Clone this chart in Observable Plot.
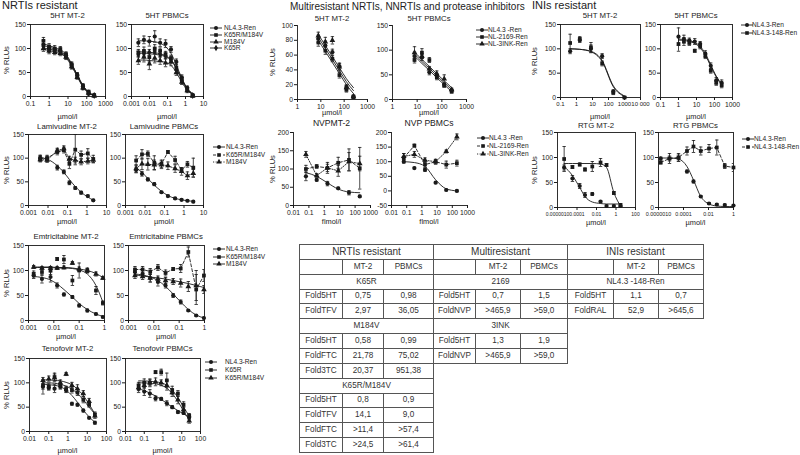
<!DOCTYPE html>
<html><head><meta charset="utf-8">
<script src="https://cdn.jsdelivr.net/npm/d3@7"></script>
<script src="https://cdn.jsdelivr.net/npm/@observablehq/plot@0.6"></script>
<style>
html,body{margin:0;padding:0;background:#fff;}
#root{position:relative;width:800px;height:455px;overflow:hidden;font-family:"Liberation Sans",Arial,Helvetica,sans-serif;color:#222;}
#root svg{position:absolute;overflow:visible;}
.t{position:absolute;white-space:nowrap;line-height:1;}
table.ft{position:absolute;border-collapse:collapse;table-layout:fixed;font-size:8.2px;color:#333;border:1.5px solid #444;}
table.ft tr{height:14.86px;}
table.ft td{border:1px solid #555;padding:0;text-align:center;overflow:hidden;white-space:nowrap;line-height:1;}
table.ft td.h{font-size:10px;}
</style></head><body><div id="root"></div>
<script>
// ---------------- DATA ----------------
// NRTIs resistant : 5HT MT-2
const nrtiMT2_dose = [0.49, 0.98, 1.95, 3.9, 7.8, 15.6, 31.3, 62.5, 125, 250];
const nrtiMT2_NL = [108, 100, 97, 95, 86, 66, 45, 21, 8, 2];
const nrtiMT2_NL_err = [8, 6, 5, 5, 5, 6, 5, 4, 3, 2];
const nrtiMT2_NL_fit = [106, 103, 99, 94, 85, 67, 45, 23, 9, 2];
const nrtiMT2_KM = [116, 104, 100, 99, 88, 66, 42, 22, 10, 3];
const nrtiMT2_KM_err = [7, 6, 6, 5, 5, 5, 5, 5, 3, 2];
const nrtiMT2_KM_fit = [110, 106, 102, 97, 88, 68, 45, 23, 9, 3];
const nrtiMT2_M = [100, 95, 92, 90, 82, 62, 40, 18, 7, 1];
const nrtiMT2_M_err = [6, 6, 5, 5, 5, 5, 4, 4, 3, 2];
const nrtiMT2_M_fit = [98, 96, 93, 89, 81, 63, 41, 20, 7, 2];
const nrtiMT2_K = [104, 97, 95, 93, 84, 64, 43, 19, 6, 2];
const nrtiMT2_K_err = [6, 5, 5, 5, 5, 5, 4, 4, 3, 2];
const nrtiMT2_K_fit = [101, 99, 96, 92, 83, 65, 43, 21, 8, 2];
// NRTIs resistant : 5HT PBMCs
const nrtiPB_dose = [0.0024, 0.0049, 0.0098, 0.0195, 0.039, 0.078, 0.156, 0.31, 0.62, 1.25, 2.5];
const nrtiPB_NL = [112, 118, 115, 125, 112, 110, 98, 72, 40, 18, 3];
const nrtiPB_NL_err = [8, 8, 10, 12, 8, 8, 6, 6, 5, 4, 2];
const nrtiPB_NL_fit = [116, 116, 115, 114, 111, 104, 90, 66, 38, 16, 5];
const nrtiPB_KM = [92, 95, 82, 100, 95, 88, 80, 60, 35, 15, 2];
const nrtiPB_KM_err = [6, 8, 10, 8, 6, 6, 6, 6, 5, 4, 2];
const nrtiPB_KM_fit = [93, 93, 92, 91, 89, 85, 77, 60, 37, 17, 6];
const nrtiPB_M = [75, 82, 68, 80, 75, 70, 72, 50, 30, 12, 1];
const nrtiPB_M_err = [8, 10, 12, 10, 8, 8, 8, 6, 5, 4, 2];
const nrtiPB_M_fit = [76, 76, 75, 74, 73, 71, 65, 50, 30, 13, 4];
const nrtiPB_K = [88, 90, 92, 95, 88, 85, 76, 55, 33, 14, 2];
const nrtiPB_K_err = [6, 6, 6, 6, 6, 6, 6, 5, 5, 4, 2];
const nrtiPB_K_fit = [90, 90, 89, 88, 86, 83, 75, 58, 35, 15, 5];
// Lamivudine MT-2
const lamMT2_dose = [0.004, 0.009, 0.03, 0.065, 0.125, 0.25, 0.5, 1.1, 2.1];
const lamMT2_NL = [100, 99, 80, 71, 48, 37, 27, 20, 11];
const lamMT2_NL_err = [6, 5, 5, 4, 4, 3, 3, 2, 2];
const lamMT2_NL_fit = [101, 98, 84, 70, 55, 40, 28, 18, 11];
const lamMT2_KM = [100, 100, 113, 117, 88, 118, 107, 110, 98];
const lamMT2_KM_err = [6, 6, 6, 6, 10, 32, 8, 10, 8];
const lamMT2_M = [97, 96, 116, 120, 98, 96, 92, 94, 96];
const lamMT2_M_err = [5, 5, 5, 6, 6, 6, 6, 6, 5];
// Lamivudine PBMCs
const lamPB_dose = [0.0035, 0.007, 0.014, 0.03, 0.07, 0.15, 0.35, 0.75, 1.5, 3];
const lamPB_NL = [75, 67, 55, 45, 28, 20, 15, 12, 10, 8];
const lamPB_NL_err = [6, 5, 3, 3, 2, 2, 2, 2, 2, 2];
const lamPB_NL_fit = [80, 70, 57, 43, 30, 21, 15, 12, 10, 9];
const lamPB_KM = [95, 108, 109, 90, 88, 113, 96, 75, 87, 80];
const lamPB_KM_err = [10, 10, 6, 15, 8, 3, 8, 5, 6, 20];
const lamPB_M = [78, 88, 87, 86, 86, 84, 78, 72, 63, 68];
const lamPB_M_err = [8, 12, 12, 10, 8, 8, 8, 8, 8, 8];
// Emtricitabine MT-2
const ftcMT2_dose = [0.0016, 0.0034, 0.0074, 0.0135, 0.025, 0.054, 0.1, 0.21, 0.46, 0.86];
const ftcMT2_NL = [90, 83, 87, 70, 52, 47, 30, 20, 13, 7];
const ftcMT2_NL_err = [6, 8, 10, 5, 3, 3, 3, 3, 2, 2];
const ftcMT2_NL_fit = [88, 86, 81, 73, 62, 47, 34, 22, 13, 8];
const ftcMT2_KM = [93, 97, 100, 123, 122, 80, 100, 100, 60, 35];
const ftcMT2_KM_err = [6, 6, 8, 3, 8, 10, 15, 5, 8, 4];
const ftcMT2_KM_fit = [106, 106, 106, 105, 105, 104, 101, 93, 70, 37];
const ftcMT2_M = [107, 105, 105, 105, 106, 115, 103, 100, 93, 85];
const ftcMT2_M_err = [3, 3, 3, 3, 3, 3, 4, 4, 4, 3];
const ftcMT2_M_fit = [107, 107, 107, 106, 106, 105, 103, 100, 94, 86];
// Emtricitabine PBMCs
const ftcPB_dose = [0.0018, 0.0036, 0.0072, 0.0145, 0.029, 0.058, 0.115, 0.23, 0.47, 0.95];
const ftcPB_NL = [97, 93, 85, 77, 70, 50, 37, 20, 10, 5];
const ftcPB_NL_err = [6, 6, 8, 8, 5, 4, 4, 2, 2, 2];
const ftcPB_NL_fit = [93, 91, 87, 80, 68, 53, 37, 22, 11, 5];
const ftcPB_KM = [102, 102, 98, 106, 95, 103, 104, 137, 62, 90];
const ftcPB_KM_err = [6, 6, 6, 6, 6, 3, 8, 10, 30, 12];
const ftcPB_M = [90, 88, 85, 83, 80, 78, 75, 68, 70, 62];
const ftcPB_M_err = [6, 6, 8, 6, 6, 6, 8, 10, 30, 8];
const ftcPB_M_fit = [91, 89, 87, 85, 83, 80, 77, 74, 70, 66];
// Tenofovir MT-2
const tfvMT2_dose = [0.05, 0.1, 0.2, 0.4, 0.8, 1.6, 3.1, 6.25, 12.5, 25];
const tfvMT2_NL = [92, 90, 88, 92, 85, 57, 55, 43, 28, 18];
const tfvMT2_NL_err = [15, 5, 8, 5, 5, 3, 3, 3, 2, 3];
const tfvMT2_NL_fit = [97, 96, 95, 92, 85, 74, 60, 44, 30, 19];
const tfvMT2_K = [95, 92, 112, 95, 87, 85, 80, 65, 55, 35];
const tfvMT2_K_err = [8, 6, 8, 6, 6, 6, 6, 6, 5, 5];
const tfvMT2_K_fit = [100, 100, 99, 97, 93, 87, 78, 65, 50, 36];
const tfvMT2_KM = [105, 108, 110, 100, 118, 95, 88, 78, 62, 32];
const tfvMT2_KM_err = [6, 6, 8, 6, 3, 6, 8, 6, 6, 5];
const tfvMT2_KM_fit = [106, 106, 105, 104, 101, 96, 87, 74, 56, 36];
// Tenofovir PBMCs
const tfvPB_dose = [0.05, 0.1, 0.2, 0.4, 0.8, 1.6, 3.1, 6.25, 12.5, 25];
const tfvPB_NL = [88, 82, 78, 68, 67, 58, 50, 40, 38, 30];
const tfvPB_NL_err = [8, 8, 8, 5, 3, 5, 3, 3, 3, 5];
const tfvPB_NL_fit = [88, 84, 79, 73, 66, 58, 50, 43, 36, 30];
const tfvPB_K = [95, 100, 100, 122, 122, 105, 85, 78, 55, 32];
const tfvPB_K_err = [6, 8, 8, 3, 6, 15, 8, 6, 6, 5];
const tfvPB_K_fit = [104, 104, 103, 102, 100, 95, 85, 70, 50, 32];
const tfvPB_KM = [90, 95, 100, 102, 100, 95, 80, 65, 45, 22];
const tfvPB_KM_err = [6, 6, 6, 8, 6, 10, 8, 8, 6, 5];
const tfvPB_KM_fit = [100, 100, 99, 98, 95, 89, 78, 62, 42, 24];
// Multiresistant : 5HT MT-2
const multiMT2_dose = [7.8, 15.6, 31.25, 62.5, 125, 250];
const multiMT2_NL = [82, 73, 64, 45, 17, 4];
const multiMT2_NL_err = [5, 6, 4, 4, 3, 2];
const multiMT2_NL_fit = [84, 69, 54, 39, 24, 12];
const multiMT2_2169 = [77, 66, 55, 33, 13, 3];
const multiMT2_2169_err = [5, 5, 4, 4, 3, 2];
const multiMT2_2169_fit = [80, 65, 50, 35, 20, 8];
const multiMT2_3INK = [86, 78, 80, 44, 16, 4];
const multiMT2_3INK_err = [5, 6, 5, 5, 3, 2];
const multiMT2_3INK_fit = [88, 73, 58, 43, 28, 16];
// Multiresistant : 5HT PBMCs
const multiPB_dose = [7.8, 15.6, 31.25, 62.5, 125, 250];
const multiPB_NL = [88, 85, 55, 48, 30, 18];
const multiPB_NL_err = [8, 6, 5, 5, 3, 3];
const multiPB_NL_fit = [92, 77, 63, 48, 34, 20];
const multiPB_2169 = [80, 95, 80, 45, 28, 16];
const multiPB_2169_err = [6, 8, 5, 5, 3, 3];
const multiPB_2169_fit = [88, 73, 59, 44, 30, 16];
const multiPB_3INK = [95, 88, 62, 52, 42, 20];
const multiPB_3INK_err = [12, 5, 5, 6, 8, 3];
const multiPB_3INK_fit = [96, 81, 67, 52, 38, 24];
// NVP MT-2
const nvpMT2_dose = [0.064, 0.32, 1.6, 8, 40, 200];
const nvpMT2_NL = [80, 70, 60, 47, 35, 25];
const nvpMT2_NL_err = [12, 3, 6, 3, 6, 3];
const nvpMT2_NL_fit = [90, 80, 62, 45, 37, 35];
const nvpMT2_2169 = [100, 107, 103, 117, 125, 102];
const nvpMT2_2169_err = [10, 5, 15, 15, 30, 57];
const nvpMT2_3INK = [140, 82, 103, 95, 120, 115];
const nvpMT2_3INK_err = [8, 5, 10, 15, 25, 20];
// NVP PBMCs
const nvpPB_dose = [0.064, 0.32, 1.6, 8, 40, 200];
const nvpPB_NL = [100, 78, 72, 28, 3, 0];
const nvpPB_NL_err = [5, 3, 5, 3, 3, 3];
const nvpPB_NL_fit = [100, 97, 84, 38, 7, 0];
const nvpPB_2169 = [113, 155, 90, 100, 90, 95];
const nvpPB_2169_err = [15, 5, 10, 8, 12, 10];
const nvpPB_3INK = [118, 125, 105, 100, 135, 185];
const nvpPB_3INK_err = [10, 10, 8, 8, 5, 10];
// INIs resistant : 5HT MT-2
const iniMT2_dose = [0.4, 1.6, 8, 40, 200, 1000];
const iniMT2_NL = [95, 118, 100, 85, 12, 0];
const iniMT2_NL_err = [5, 5, 8, 5, 4, 2];
const iniMT2_NL_fit = [100, 99, 95, 76, 24, 3];
const iniMT2_148 = [112, 120, 103, 70, 10, 0];
const iniMT2_148_err = [18, 5, 10, 5, 4, 2];
const iniMT2_148_fit = [100, 99, 94, 74, 22, 2];
// INIs resistant : 5HT PBMCs
const iniPB_dose = [1, 2, 4, 8, 16, 31, 62, 125, 250];
const iniPB_NL = [125, 120, 117, 115, 110, 90, 65, 35, 30];
const iniPB_NL_err = [18, 8, 5, 6, 5, 6, 6, 6, 6];
const iniPB_NL_fit = [120, 119, 117, 113, 105, 90, 67, 44, 28];
const iniPB_148 = [110, 115, 112, 96, 105, 85, 55, 30, 25];
const iniPB_148_err = [15, 8, 5, 3, 5, 5, 5, 5, 5];
const iniPB_148_fit = [118, 117, 115, 111, 102, 87, 64, 42, 26];
// RTG MT-2
const rtgMT2_dose = [4.8e-6, 3.4e-5, 1.9e-4, 6.6e-4, 3.7e-3, 2.6e-2, 0.107, 0.6, 2.9];
const rtgMT2_NL = [80, 58, 43, 25, 27, 12, 3, 3, 3];
const rtgMT2_NL_err = [5, 6, 5, 5, 3, 2, 2, 2, 2];
const rtgMT2_NL_fit = [82, 64, 40, 22, 11, 8, 7, 7, 7];
const rtgMT2_148 = [97, 81, 86, 76, 82, 90, 85, 29, 5];
const rtgMT2_148_err = [25, 3, 3, 3, 10, 8, 3, 3, 3];
const rtgMT2_148_fit = [88, 88, 88, 88, 88, 87, 80, 30, 3];
// RTG PBMCs
const rtgPB_dose = [1.5e-6, 7.6e-6, 4e-5, 1.9e-4, 6.3e-4, 2.4e-3, 1.1e-2, 4.6e-2, 0.2, 1];
const rtgPB_NL = [98, 98, 99, 72, 52, 22, 8, 6, 5, 4];
const rtgPB_NL_err = [3, 10, 6, 3, 3, 2, 2, 2, 2, 2];
const rtgPB_NL_fit = [99, 99, 97, 82, 55, 22, 7, 3, 2, 2];
const rtgPB_148 = [90, 98, 100, 113, 122, 113, 118, 120, 83, 80];
const rtgPB_148_err = [3, 5, 8, 8, 12, 8, 8, 15, 5, 8];

// tick values and labels
const tk_01_1000 = [0.1, 1, 10, 100, 1000], tl_01_1000 = ["0.1", "1", "10", "100", "1000"];
const tk_0001_10 = [0.001, 0.01, 0.1, 1, 10], tl_0001_10 = ["0.001", "0.01", "0.1", "1", "10"];
const tk_0001_1 = [0.001, 0.01, 0.1, 1], tl_0001_1 = ["0.001", "0.01", "0.1", "1"];
const tk_001_100 = [0.01, 0.1, 1, 10, 100], tl_001_100 = ["0.01", "0.1", "1", "10", "100"];
const tk_1_1000 = [1, 10, 100, 1000], tl_1_1000 = ["1", "10", "100", "1000"];
const tk_001_1000 = [0.01, 0.1, 1, 10, 100, 1000], tl_001_1000 = ["0.01", "0.1", "1", "10", "100", "1000"];
const tk_01_10000 = [0.1, 1, 10, 100, 1000, 10000], tl_01_10000 = ["0.1", "1", "10", "100", "1000", "10 000"];
const tk_rtg100 = [1e-6, 1e-4, 1e-2, 1, 100], tl_rtg100 = ["0.0000010", "0.0001", "0.01", "1", "100"];
const tk_rtg1 = [1e-6, 1e-4, 1e-2, 1], tl_rtg1 = ["0.0000010", "0.0001", "0.01", "1"];
const yt150 = [0, 50, 100, 150], yt100 = [0, 20, 40, 60, 80, 100], yt200 = [0, 50, 100, 150, 200], yt200n = [-50, 0, 50, 100, 150, 200];

// table contents
const tabNRTI = [["NRTIs resistant"], ["", "MT-2", "PBMCs"], ["K65R"], ["Fold5HT", "0,75", "0,98"], ["FoldTFV", "2,97", "36,05"], ["M184V"], ["Fold5HT", "0,58", "0,99"], ["FoldFTC", "21,78", "75,02"], ["Fold3TC", "20,37", "951,38"], ["K65R/M184V"], ["Fold5HT", "0,8", "0,9"], ["FoldTFV", "14,1", "9,0"], ["FoldFTC", ">11,4", ">57,4"], ["Fold3TC", ">24,5", ">61,4"]];
const tabMulti = [["Multiresistant"], ["", "MT-2", "PBMCs"], ["2169"], ["Fold5HT", "0,7", "1,5"], ["FoldNVP", ">465,9", ">59,0"], ["3INK"], ["Fold5HT", "1,3", "1,9"], ["FoldNVP", ">465,9", ">59,0"]];
const tabINI = [["INIs resistant"], ["", "MT-2", "PBMCs"], ["NL4.3 -148-Ren"], ["Fold5HT", "1,1", "0,7"], ["FoldRAL", "52,9", ">645,6"]];

// ---------------- DRAWING ----------------
const INK = "#1a1a1a";
const FONT = "Liberation Sans, Arial, Helvetica, sans-serif";
const root = document.getElementById("root");
const CAP = {draw(ctx, size) { const r = Math.sqrt(size / Math.PI); ctx.moveTo(-r, 0); ctx.lineTo(r, 0); }};
const SYM = {circle: d3.symbolCircle, square: d3.symbolSquare, triangle: d3.symbolTriangle, diamond: d3.symbolDiamond};
const DASH = "3,2", DOT = "1.2,1.4";

function addText(txt, x, y, o = {}) {
  const d = document.createElement("div");
  d.className = "t";
  d.textContent = txt;
  d.style.fontSize = (o.size || 8) + "px";
  d.style.left = x + "px";
  d.style.top = y + "px";
  if (o.rotate) d.style.transform = "translate(-50%,-50%) rotate(-90deg)";
  else d.style.transform = o.anchor === "start" ? "translate(0,-50%)" : "translate(-50%,-50%)";
  root.appendChild(d);
}

function S(sym, v, e, f, dash) { return {sym, v, e, f, dash}; }

function addPanel(p) {
  const ML = 30, MR = 6, MT = 6, MB = 14;
  const w = p.fx[1] - p.fx[0] + ML + MR, h = p.fy[1] - p.fy[0] + MT + MB;
  const marks = [];
  if (p.box) marks.push(Plot.frame({stroke: INK, strokeWidth: 0.9}));
  else {
    marks.push(Plot.ruleX([p.xdom[0]], {stroke: INK, strokeWidth: 0.9}));
    marks.push(Plot.ruleY([p.ydom[0]], {stroke: INK, strokeWidth: 0.9}));
  }
  for (const s of p.series) {
    const rows = p.dose.map((x, i) => ({x, y: s.v[i], e: s.e[i]}));
    const lr = p.dose.map((x, i) => ({x, y: (s.f || s.v)[i]}));
    marks.push(Plot.line(lr, {x: "x", y: "y", curve: s.f ? "monotone-x" : "linear", stroke: INK, strokeWidth: 0.9, strokeDasharray: s.dash || null, clip: true}));
    marks.push(Plot.ruleX(rows, {x: "x", y1: r => r.y - r.e, y2: r => r.y + r.e, stroke: INK, strokeWidth: 0.8, clip: true}));
    marks.push(Plot.dot(rows, {x: "x", y: r => r.y + r.e, symbol: CAP, r: 1.7, stroke: INK, fill: "none", strokeWidth: 0.8, clip: true}));
    marks.push(Plot.dot(rows, {x: "x", y: r => r.y - r.e, symbol: CAP, r: 1.7, stroke: INK, fill: "none", strokeWidth: 0.8, clip: true}));
    marks.push(Plot.dot(rows, {x: "x", y: "y", symbol: s.sym, r: 2.1, fill: INK}));
  }
  const xfs = p.xfs || 6.8;
  marks.push(Plot.axisX({ticks: p.xt, tickFormat: d => p.xl[p.xt.indexOf(d)], label: null, tickSize: 3, tickPadding: 1.5, fontSize: xfs}));
  marks.push(Plot.axisY({ticks: p.yt, tickFormat: d => String(d), label: null, tickSize: 3, tickPadding: 1.5}));
  const svg = Plot.plot({
    width: w, height: h, marginLeft: ML, marginRight: MR, marginTop: MT, marginBottom: MB,
    x: {type: "log", domain: p.xdom},
    y: {domain: p.ydom},
    style: {fontFamily: FONT, fontSize: "6.8px", color: INK, background: "transparent", overflow: "visible"},
    marks
  });
  svg.style.left = (p.fx[0] - ML) + "px";
  svg.style.top = (p.fy[0] - MT) + "px";
  root.appendChild(svg);
  const cx = (p.fx[0] + p.fx[1]) / 2;
  addText(p.title, cx, p.ty, {size: p.tsize || 7.8});
  addText(p.xlab, cx, p.xly, {size: 7.4});
  if (p.ylx != null) addText("% RLUs", p.ylx, (p.fy[0] + p.fy[1]) / 2, {size: 7.6, rotate: true});
}

function addLegend(x, ys, tx, items) {
  items.forEach((it, i) => {
    const svg = d3.create("svg").attr("width", 12).attr("height", 8)
      .style("left", x + "px").style("top", (ys[i] - 4) + "px");
    svg.append("line").attr("x1", 0).attr("x2", 12).attr("y1", 4).attr("y2", 4)
      .attr("stroke", INK).attr("stroke-width", 0.9).attr("stroke-dasharray", it.dash || null);
    svg.append("path").attr("transform", "translate(6,4)").attr("d", d3.symbol(SYM[it.sym], 13)()).attr("fill", INK);
    root.appendChild(svg.node());
    addText(it.name, tx, ys[i], {size: 6.6, anchor: "start"});
  });
}

// section titles
addText("NRTIs resistant", 2, 5, {size: 11, anchor: "start"});
addText("Multiresistant NRTIs, NNRTIs and protease inhibitors", 290, 7, {size: 10, anchor: "start"});
addText("INIs resistant", 532, 5, {size: 11, anchor: "start"});

const mu = "\u00b5mol/l";
// Left column
addPanel({dose: nrtiMT2_dose, series: [
  S("circle", nrtiMT2_NL, nrtiMT2_NL_err, nrtiMT2_NL_fit), S("square", nrtiMT2_KM, nrtiMT2_KM_err, nrtiMT2_KM_fit),
  S("triangle", nrtiMT2_M, nrtiMT2_M_err, nrtiMT2_M_fit), S("diamond", nrtiMT2_K, nrtiMT2_K_err, nrtiMT2_K_fit)],
  fx: [30, 105], fy: [24, 96], xdom: [0.1, 1000], xt: tk_01_1000, xl: tl_01_1000, ydom: [0, 150], yt: yt150, box: true,
  title: "5HT MT-2", ty: 16, xlab: mu, xly: 117, ylx: 7});
addPanel({dose: nrtiPB_dose, series: [
  S("circle", nrtiPB_NL, nrtiPB_NL_err, nrtiPB_NL_fit), S("square", nrtiPB_KM, nrtiPB_KM_err, nrtiPB_KM_fit),
  S("triangle", nrtiPB_M, nrtiPB_M_err, nrtiPB_M_fit), S("diamond", nrtiPB_K, nrtiPB_K_err, nrtiPB_K_fit)],
  fx: [131, 203], fy: [24, 96], xdom: [0.001, 10], xt: tk_0001_10, xl: tl_0001_10, ydom: [0, 150], yt: yt150, box: true,
  title: "5HT PBMCs", ty: 16, xlab: mu, xly: 117});
addLegend(210, [28, 35, 42, 48], 224, [{sym: "circle", name: "NL4.3-Ren"}, {sym: "square", name: "K65R/M184V"}, {sym: "triangle", name: "M184V"}, {sym: "diamond", name: "K65R"}]);

addPanel({dose: lamMT2_dose, series: [
  S("circle", lamMT2_NL, lamMT2_NL_err, lamMT2_NL_fit), S("square", lamMT2_KM, lamMT2_KM_err, null, DASH),
  S("triangle", lamMT2_M, lamMT2_M_err, null, DOT)],
  fx: [28, 106], fy: [134, 205], xdom: [0.001, 10], xt: tk_0001_10, xl: tl_0001_10, ydom: [0, 150], yt: yt150, box: true,
  title: "Lamivudine MT-2", ty: 127, xlab: mu, xly: 222, ylx: 7});
addPanel({dose: lamPB_dose, series: [
  S("circle", lamPB_NL, lamPB_NL_err, lamPB_NL_fit), S("square", lamPB_KM, lamPB_KM_err, null, DASH),
  S("triangle", lamPB_M, lamPB_M_err, null, DOT)],
  fx: [125, 203], fy: [134, 205], xdom: [0.001, 10], xt: tk_0001_10, xl: tl_0001_10, ydom: [0, 150], yt: yt150, box: true,
  title: "Lamivudine PBMCs", ty: 127, xlab: mu, xly: 222});
addLegend(213, [147, 155, 162], 226, [{sym: "circle", name: "NL4.3-Ren"}, {sym: "square", name: "K65R/M184V", dash: DASH}, {sym: "triangle", name: "M184V", dash: DOT}]);

addPanel({dose: ftcMT2_dose, series: [
  S("circle", ftcMT2_NL, ftcMT2_NL_err, ftcMT2_NL_fit), S("square", ftcMT2_KM, ftcMT2_KM_err, ftcMT2_KM_fit),
  S("triangle", ftcMT2_M, ftcMT2_M_err, ftcMT2_M_fit)],
  fx: [28, 104], fy: [245, 320], xdom: [0.001, 1], xt: tk_0001_1, xl: tl_0001_1, ydom: [0, 150], yt: yt150, box: true,
  title: "Emtricitabine MT-2", ty: 237, xlab: mu, xly: 337, ylx: 7});
addPanel({dose: ftcPB_dose, series: [
  S("circle", ftcPB_NL, ftcPB_NL_err, ftcPB_NL_fit), S("square", ftcPB_KM, ftcPB_KM_err, null, DASH),
  S("triangle", ftcPB_M, ftcPB_M_err, ftcPB_M_fit)],
  fx: [128, 204], fy: [245, 320], xdom: [0.001, 1], xt: tk_0001_1, xl: tl_0001_1, ydom: [0, 150], yt: yt150, box: true,
  title: "Emtricitabine PBMCs", ty: 237, xlab: mu, xly: 337});
addLegend(213, [249, 257, 264], 226, [{sym: "circle", name: "NL4.3-Ren"}, {sym: "square", name: "K65R/M184V"}, {sym: "triangle", name: "M184V"}]);

addPanel({dose: tfvMT2_dose, series: [
  S("circle", tfvMT2_NL, tfvMT2_NL_err, tfvMT2_NL_fit), S("square", tfvMT2_K, tfvMT2_K_err, tfvMT2_K_fit),
  S("triangle", tfvMT2_KM, tfvMT2_KM_err, tfvMT2_KM_fit)],
  fx: [29, 106], fy: [358, 431], xdom: [0.01, 100], xt: tk_001_100, xl: tl_001_100, ydom: [0, 150], yt: yt150, box: true,
  title: "Tenofovir MT-2", ty: 349, xlab: mu, xly: 451, ylx: 7});
addPanel({dose: tfvPB_dose, series: [
  S("circle", tfvPB_NL, tfvPB_NL_err, tfvPB_NL_fit), S("square", tfvPB_K, tfvPB_K_err, tfvPB_K_fit),
  S("triangle", tfvPB_KM, tfvPB_KM_err, tfvPB_KM_fit)],
  fx: [125, 200], fy: [358, 431], xdom: [0.01, 100], xt: tk_001_100, xl: tl_001_100, ydom: [0, 150], yt: yt150, box: true,
  title: "Tenofovir PBMCs", ty: 349, xlab: mu, xly: 451});
addLegend(205, [362, 370, 378], 225, [{sym: "circle", name: "NL4.3-Ren"}, {sym: "square", name: "K65R"}, {sym: "triangle", name: "K65R/M184V"}]);

// Middle column
addPanel({dose: multiMT2_dose, series: [
  S("circle", multiMT2_NL, multiMT2_NL_err, multiMT2_NL_fit), S("square", multiMT2_2169, multiMT2_2169_err, multiMT2_2169_fit),
  S("triangle", multiMT2_3INK, multiMT2_3INK_err, multiMT2_3INK_fit)],
  fx: [297, 367], fy: [25, 99], xdom: [1, 1000], xt: tk_1_1000, xl: tl_1_1000, ydom: [0, 100], yt: yt100, box: false,
  title: "5HT MT-2", ty: 19, xlab: mu, xly: 113, ylx: 273});
addPanel({dose: multiPB_dose, series: [
  S("circle", multiPB_NL, multiPB_NL_err, multiPB_NL_fit), S("square", multiPB_2169, multiPB_2169_err, multiPB_2169_fit),
  S("triangle", multiPB_3INK, multiPB_3INK_err, multiPB_3INK_fit)],
  fx: [392, 466], fy: [25, 99], xdom: [1, 1000], xt: tk_1_1000, xl: tl_1_1000, ydom: [0, 150], yt: yt150, box: false,
  title: "5HT PBMCs", ty: 19, xlab: mu, xly: 113});
addLegend(476, [30, 37, 44], 488, [{sym: "circle", name: "NL4.3 -Ren"}, {sym: "square", name: "NL-2169-Ren"}, {sym: "triangle", name: "NL-3INK-Ren"}]);

addPanel({dose: nvpMT2_dose, series: [
  S("circle", nvpMT2_NL, nvpMT2_NL_err, nvpMT2_NL_fit), S("square", nvpMT2_2169, nvpMT2_2169_err, null, DASH),
  S("triangle", nvpMT2_3INK, nvpMT2_3INK_err, null, DOT)],
  fx: [293, 370], fy: [132, 205], xdom: [0.01, 1000], xt: tk_001_1000, xl: tl_001_1000, ydom: [0, 200], yt: yt200, box: false,
  title: "NVPMT-2", tsize: 8.6, ty: 123, xlab: "flmol/l", xly: 222, ylx: 273});
addPanel({dose: nvpPB_dose, series: [
  S("circle", nvpPB_NL, nvpPB_NL_err, nvpPB_NL_fit), S("square", nvpPB_2169, nvpPB_2169_err, null, DASH),
  S("triangle", nvpPB_3INK, nvpPB_3INK_err, null, DOT)],
  fx: [391, 467], fy: [132, 205], xdom: [0.01, 1000], xt: tk_001_1000, xl: tl_001_1000, ydom: [-50, 200], yt: yt200n, box: false,
  title: "NVP PBMCs", tsize: 8.6, ty: 123, xlab: "flmol/l", xly: 222});
addLegend(477, [138, 146, 154], 489, [{sym: "circle", name: "NL4.3 -Ren"}, {sym: "square", name: "NL-2169-Ren", dash: DASH}, {sym: "triangle", name: "NL-3INK-Ren", dash: DOT}]);

// Right column
addPanel({dose: iniMT2_dose, series: [
  S("circle", iniMT2_NL, iniMT2_NL_err, iniMT2_NL_fit), S("square", iniMT2_148, iniMT2_148_err, iniMT2_148_fit)],
  fx: [560, 640], fy: [24, 97], xdom: [0.1, 10000], xt: tk_01_10000, xl: tl_01_10000, xfs: 6, ydom: [0, 150], yt: yt150, box: true,
  title: "5HT MT-2", ty: 16, xlab: mu, xly: 117, ylx: 535});
addPanel({dose: iniPB_dose, series: [
  S("circle", iniPB_NL, iniPB_NL_err, iniPB_NL_fit), S("square", iniPB_148, iniPB_148_err, iniPB_148_fit)],
  fx: [660, 732], fy: [24, 97], xdom: [0.1, 1000], xt: tk_01_1000, xl: tl_01_1000, ydom: [0, 150], yt: yt150, box: true,
  title: "5HT PBMCs", ty: 16, xlab: mu, xly: 117});
addLegend(741, [25, 33], 752, [{sym: "circle", name: "NL4.3-Ren"}, {sym: "square", name: "NL4.3-148-Ren"}]);

addPanel({dose: rtgMT2_dose, series: [
  S("circle", rtgMT2_NL, rtgMT2_NL_err, rtgMT2_NL_fit), S("square", rtgMT2_148, rtgMT2_148_err, rtgMT2_148_fit)],
  fx: [557, 635], fy: [132, 207], xdom: [1e-6, 100], xt: tk_rtg100, xl: tl_rtg100, xfs: 5, ydom: [0, 150], yt: yt150, box: true,
  title: "RTG MT-2", ty: 126, xlab: mu, xly: 223, ylx: 535});
addPanel({dose: rtgPB_dose, series: [
  S("circle", rtgPB_NL, rtgPB_NL_err, rtgPB_NL_fit), S("square", rtgPB_148, rtgPB_148_err, null, DASH)],
  fx: [658, 733], fy: [132, 207], xdom: [1e-6, 1], xt: tk_rtg1, xl: tl_rtg1, xfs: 5.4, ydom: [0, 150], yt: yt150, box: true,
  title: "RTG PBMCs", ty: 126, xlab: mu, xly: 223});
addLegend(742, [139, 147], 754, [{sym: "circle", name: "NL4.3-Ren"}, {sym: "square", name: "NL4.3-148-Ren", dash: DASH}]);

// tables
function addTable(rows, left, top, widths) {
  const t = document.createElement("table");
  t.className = "ft";
  t.style.left = left + "px"; t.style.top = top + "px";
  t.style.width = widths.reduce((a, b) => a + b, 0) + "px";
  const cg = document.createElement("colgroup");
  widths.forEach(w => { const c = document.createElement("col"); c.style.width = w + "px"; cg.appendChild(c); });
  t.appendChild(cg);
  rows.forEach((r, i) => {
    const tr = document.createElement("tr");
    r.forEach(v => {
      const td = document.createElement("td");
      td.textContent = v;
      if (r.length === 1) td.colSpan = 3;
      if (i === 0) td.className = "h";
      tr.appendChild(td);
    });
    t.appendChild(tr);
  });
  root.appendChild(t);
}
addTable(tabNRTI, 299, 244, [43, 41, 50]);
addTable(tabMulti, 433, 244, [42, 45, 47]);
addTable(tabINI, 567, 244, [46, 45, 45]);
</script></body></html>
